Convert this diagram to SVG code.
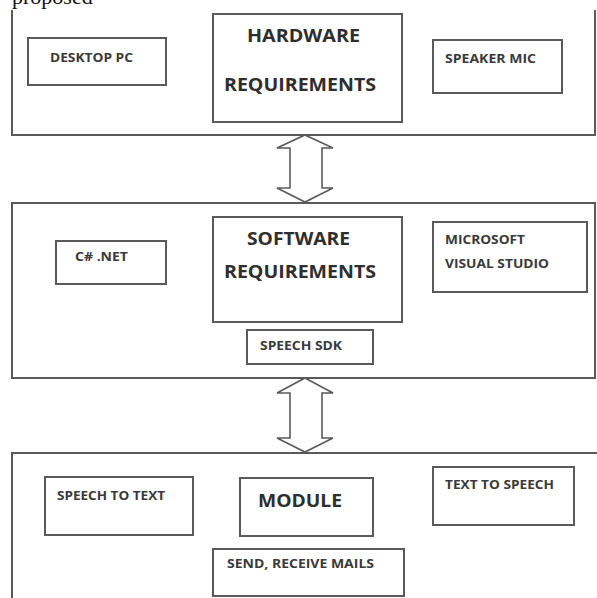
<svg xmlns="http://www.w3.org/2000/svg" width="597" height="598" viewBox="0 0 597 598">
  <style>
    .panel { fill: none; stroke: #5a5a5a; stroke-width: 2; }
    .box { fill: #ffffff; stroke: #5a5a5a; stroke-width: 2; }
    .arrow { fill: #ffffff; stroke: #5a5a5a; stroke-width: 1.6; stroke-linejoin: miter; }
    .lbl { font-family: "Open Sans", "Liberation Sans", sans-serif; font-weight: bold; font-size: 13px; fill: #3a3a3a; }
    .big { font-family: "Open Sans", "Liberation Sans", sans-serif; font-weight: bold; font-size: 18px; fill: #2e2e2e; }
    .cap { font-family: "Liberation Serif", serif; font-size: 22px; fill: #111111; }
  </style>
  <rect width="597" height="598" fill="#ffffff"/>

  <!-- running caption line, clipped by the page edge -->
  <text class="cap" x="12" y="4">proposed</text>

  <!-- layer frames -->
  <g id="hardware-layer">
    <path class="panel" d="M12,10 V135 H595 V10"/>
  </g>
  <g id="software-layer">
    <rect class="panel" x="12" y="203" width="583" height="175"/>
  </g>
  <g id="module-layer">
    <path class="panel" d="M12,600 V453 H597"/>
  </g>

  <!-- hardware layer nodes -->
  <g id="desktop-pc">
    <rect class="box" x="28" y="38" width="138" height="47"/>
    <text class="lbl" x="50" y="62" textLength="83" lengthAdjust="spacingAndGlyphs">DESKTOP PC</text>
  </g>
  <g id="hardware-requirements">
    <rect class="box" x="213" y="14" width="189" height="108"/>
    <text class="big" x="247" y="42" textLength="113" lengthAdjust="spacingAndGlyphs">HARDWARE</text>
    <text class="big" x="224" y="91" textLength="152" lengthAdjust="spacingAndGlyphs">REQUIREMENTS</text>
  </g>
  <g id="speaker-mic">
    <rect class="box" x="433" y="40" width="129" height="53"/>
    <text class="lbl" x="445" y="63" textLength="91" lengthAdjust="spacingAndGlyphs">SPEAKER MIC</text>
  </g>

  <!-- software layer nodes -->
  <g id="csharp-net">
    <rect class="box" x="56" y="241" width="110" height="43"/>
    <text class="lbl" x="75" y="261" textLength="53" lengthAdjust="spacingAndGlyphs">C# .NET</text>
  </g>
  <g id="software-requirements">
    <rect class="box" x="213" y="217" width="189" height="105"/>
    <text class="big" x="247" y="245" textLength="103" lengthAdjust="spacingAndGlyphs">SOFTWARE</text>
    <text class="big" x="224" y="278" textLength="152" lengthAdjust="spacingAndGlyphs">REQUIREMENTS</text>
  </g>
  <g id="visual-studio">
    <rect class="box" x="433" y="222" width="154" height="70"/>
    <text class="lbl" x="445" y="244" textLength="80" lengthAdjust="spacingAndGlyphs">MICROSOFT</text>
    <text class="lbl" x="445" y="268" textLength="104" lengthAdjust="spacingAndGlyphs">VISUAL STUDIO</text>
  </g>
  <g id="speech-sdk">
    <rect class="box" x="247" y="330" width="126" height="34"/>
    <text class="lbl" x="260" y="350" textLength="82" lengthAdjust="spacingAndGlyphs">SPEECH SDK</text>
  </g>

  <!-- module layer nodes -->
  <g id="speech-to-text">
    <rect class="box" x="45" y="477" width="148" height="58"/>
    <text class="lbl" x="57" y="500" textLength="108" lengthAdjust="spacingAndGlyphs">SPEECH TO TEXT</text>
  </g>
  <g id="module">
    <rect class="box" x="240" y="478" width="133" height="58"/>
    <text class="big" x="258" y="507" textLength="84" lengthAdjust="spacingAndGlyphs">MODULE</text>
  </g>
  <g id="text-to-speech">
    <rect class="box" x="433" y="467" width="141" height="58"/>
    <text class="lbl" x="445" y="489" textLength="109" lengthAdjust="spacingAndGlyphs">TEXT TO SPEECH</text>
  </g>
  <g id="send-receive-mails">
    <rect class="box" x="213" y="549" width="191" height="47"/>
    <text class="lbl" x="227" y="568" textLength="147" lengthAdjust="spacingAndGlyphs">SEND, RECEIVE MAILS</text>
  </g>

  <!-- two-way block arrows between layers -->
  <g id="connectors">
    <polygon class="arrow" points="305,135 333,148 322,148 322,188 333,188 305,202 277,188 290,188 290,148 277,148"/>
    <polygon class="arrow" points="305,378 333,393 322,393 322,438 333,438 305,452 277,438 290,438 290,393 277,393"/>
  </g>
</svg>
